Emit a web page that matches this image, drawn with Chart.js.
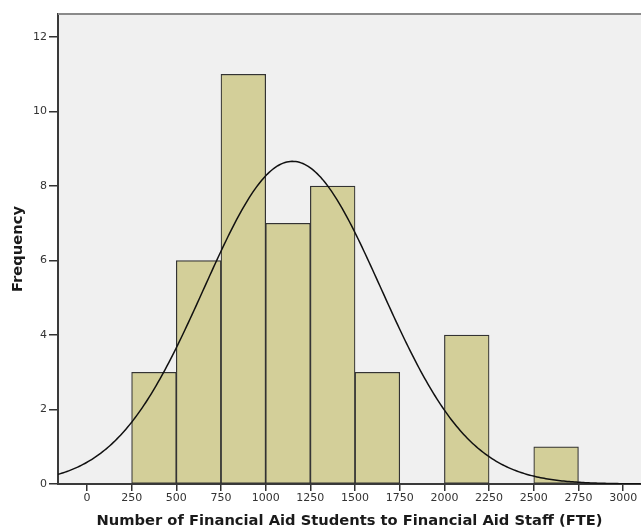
<!DOCTYPE html>
<html>
<head>
<meta charset="utf-8">
<script src="https://cdn.jsdelivr.net/npm/chart.js@4/dist/chart.umd.min.js"></script>
<style>
  html, body { margin: 0; padding: 0; background: #ffffff; }
  #wrap { width: 641px; height: 531px; }
</style>
</head>
<body>
<div id="wrap"><canvas id="chart" width="641" height="531"></canvas></div>
<script>
// Histogram bins (lower edges) and counts
const binStarts = [250, 500, 750, 1000, 1250, 1500, 2000, 2500];
const binWidth = 250;
const counts = [3, 6, 11, 7, 8, 3, 4, 1];

// Fitted normal curve parameters
const fitMean = 1150;
const fitSD = 495;
const fitN = 43;

// Axis ticks
const xTicks = [0, 250, 500, 750, 1000, 1250, 1500, 1750, 2000, 2250, 2500, 2750, 3000];
const yTicks = [0, 2, 4, 6, 8, 10, 12];
const xMin = -162, xMax = 3100;
const yMax = 12.62;

const barData = binStarts.map((s, i) => ({ x: s + binWidth / 2, y: counts[i] }));

// Normal density scaled to histogram counts
const curveData = [];
for (let x = xMin; x <= xMax; x += 10) {
  const z = (x - fitMean) / fitSD;
  const y = fitN * binWidth / (fitSD * Math.sqrt(2 * Math.PI)) * Math.exp(-0.5 * z * z);
  curveData.push({ x: x, y: y });
}

const plotArea = {
  id: 'plotArea',
  beforeDraw(chart) {
    const { ctx, chartArea: a } = chart;
    ctx.save();
    ctx.fillStyle = '#f0f0f0';
    ctx.fillRect(a.left, a.top, a.right - a.left, a.bottom - a.top);
    ctx.restore();
  },
  afterDraw(chart) {
    const { ctx, chartArea: a } = chart;
    ctx.save();
    ctx.strokeStyle = '#8a8a8a';
    ctx.lineWidth = 2;
    ctx.beginPath();
    ctx.moveTo(a.left, a.top);
    ctx.lineTo(a.right, a.top);
    ctx.stroke();
    ctx.restore();
  }
};

new Chart(document.getElementById('chart'), {
  data: {
    datasets: [
      {
        type: 'line',
        data: curveData,
        borderColor: '#111111',
        borderWidth: 1.5,
        pointRadius: 0,
        tension: 0,
        fill: false,
        order: 0
      },
      {
        type: 'bar',
        data: barData,
        backgroundColor: '#d3cf99',
        borderColor: '#333333',
        borderWidth: 1.2,
        borderSkipped: false,
        barPercentage: 1,
        categoryPercentage: 1,
        order: 1
      }
    ]
  },
  options: {
    responsive: false,
    animation: false,
    devicePixelRatio: 1,
    layout: { padding: { left: 0, top: 14, right: 0, bottom: 0 } },
    plugins: { legend: { display: false }, tooltip: { enabled: false } },
    scales: {
      x: {
        type: 'linear',
        min: xMin,
        max: xMax,
        offset: false,
        afterBuildTicks(scale) { scale.ticks = xTicks.map(v => ({ value: v })); },
        afterFit(scale) { scale.height = 47; },
        grid: { display: true, offset: false, drawOnChartArea: false, drawTicks: true, tickLength: 7, color: '#333333', lineWidth: 1.5 },
        border: { display: true, color: '#3a3a3a', width: 2 },
        ticks: {
          color: '#333333',
          font: { family: 'DejaVu Sans', size: 11 },
          padding: 1,
          maxRotation: 0,
          autoSkip: false,
          callback: v => String(v)
        },
        title: {
          display: true,
          text: 'Number of Financial Aid Students to Financial Aid Staff (FTE)',
          color: '#1a1a1a',
          font: { family: 'DejaVu Sans', size: 14.7, weight: 'bold' },
          padding: { top: 0, bottom: 1 }
        }
      },
      y: {
        min: 0,
        max: yMax,
        afterBuildTicks(scale) { scale.ticks = yTicks.map(v => ({ value: v })); },
        afterFit(scale) { scale.width = 58; },
        grid: { display: true, drawOnChartArea: false, drawTicks: true, tickLength: 9, color: '#333333', lineWidth: 1.5 },
        border: { display: true, color: '#3a3a3a', width: 2 },
        ticks: {
          color: '#333333',
          font: { family: 'DejaVu Sans', size: 11 },
          padding: 2
        },
        title: {
          display: true,
          text: 'Frequency',
          color: '#1a1a1a',
          font: { family: 'DejaVu Sans', size: 14.7, weight: 'bold' },
          padding: { top: 9, bottom: 0 }
        }
      }
    }
  },
  plugins: [plotArea]
});
</script>
</body>
</html>
